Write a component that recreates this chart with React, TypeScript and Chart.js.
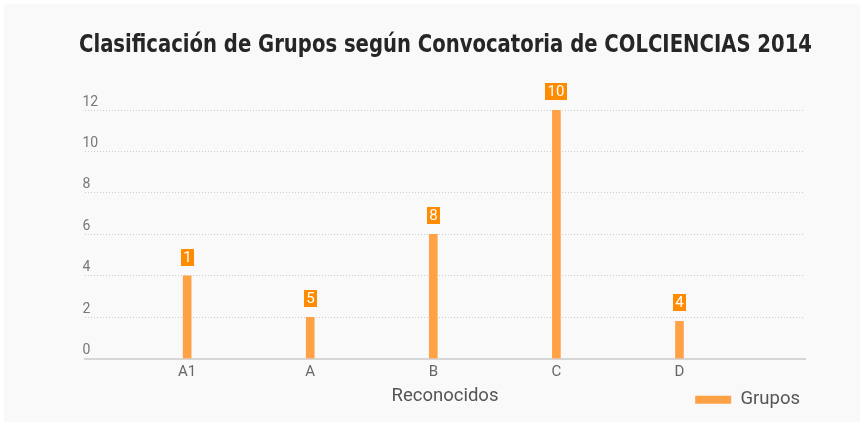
import React, { useEffect, useRef } from 'react';
import { Chart, registerables } from 'chart.js';

Chart.register(...registerables);

const titleText = 'Clasificación de Grupos según Convocatoria de COLCIENCIAS 2014';
const axisTitle = 'Reconocidos';
const seriesName = 'Grupos';
const categories = ['A1', 'A', 'B', 'C', 'D'];
const barValues = [4, 2, 6, 12, 1.8];
const boxLabels = ['1', '5', '8', '10', '4'];
const yTicks = [0, 2, 4, 6, 8, 10, 12];

const valueBoxes = {
  id: 'valueBoxes',
  afterDatasetsDraw(chart: any) {
    const ctx = chart.ctx;
    const meta = chart.getDatasetMeta(0);
    ctx.save();
    ctx.font = '15px Roboto';
    ctx.textAlign = 'center';
    ctx.textBaseline = 'middle';
    meta.data.forEach((bar: any, i: number) => {
      const t = boxLabels[i];
      const w = Math.round(ctx.measureText(t).width + 5);
      const h = 17;
      const bottom = Math.round(bar.y - 10);
      const left = Math.round(bar.x - w / 2);
      ctx.fillStyle = '#ff8c00';
      ctx.fillRect(left, bottom - h, w, h);
      ctx.fillStyle = '#ffffff';
      ctx.fillText(t, left + w / 2, bottom - h / 2 + 1);
    });
    ctx.restore();
  },
};

export default function App() {
  const ref = useRef<HTMLCanvasElement | null>(null);
  useEffect(() => {
    if (!ref.current) return;
    const chart = new Chart(ref.current, {
      type: 'bar',
      data: {
        datasets: [
          {
            label: seriesName,
            data: categories.map((_, i) => ({ x: i, y: barValues[i] })),
            backgroundColor: '#ffa245',
            borderWidth: 0,
            barThickness: 8,
          },
        ],
      },
      options: {
        animation: false,
        responsive: false,
        layout: { padding: { left: 75, right: 48, top: 0, bottom: 3 } },
        plugins: {
          title: {
            display: true,
            text: titleText,
            fullSize: true,
            color: '#262626',
            font: { family: "'Liberation Sans Narrow', 'DejaVu Sans Condensed', Roboto, sans-serif", size: 24.5, weight: 'bold' },
            padding: { top: 27.3, bottom: 49.4 },
          },
          legend: {
            position: 'bottom',
            align: 'end',
            fullSize: false,
            labels: {
              boxWidth: 36,
              boxHeight: 8,
              padding: 5,
              color: '#555555',
              font: { family: 'Roboto', size: 18.5 },
            },
          },
          tooltip: { enabled: false },
        },
        scales: {
          x: {
            type: 'linear',
            offset: false,
            min: -0.83,
            max: 5.02,
            afterBuildTicks: (s: any) => {
              s.ticks = categories.map((_, i) => ({ value: i }));
            },
            ticks: {
              callback: (v: any) => categories[v] ?? '',
              color: '#666666',
              font: { family: 'Roboto', size: 15 },
              padding: 5,
              autoSkip: false,
              maxRotation: 0,
            },
            grid: { display: false, drawTicks: false },
            border: { color: '#d6d6d6', width: 2 },
            title: {
              display: true,
              text: axisTitle,
              color: '#555555',
              font: { family: 'Roboto', size: 18.5 },
              padding: { top: -1.4, bottom: -22 },
            },
          },
          y: {
            min: 0,
            max: 12,
            afterBuildTicks: (s: any) => {
              s.ticks = yTicks.map((v) => ({ value: v }));
            },
            afterFit: (s: any) => {
              s.width = 6;
            },
            ticks: {
              mirror: true,
              padding: -2.5,
              labelOffset: -8,
              color: '#777777',
              font: { family: 'Roboto', size: 14 },
            },
            grid: { color: '#cccccc', drawTicks: false },
            border: { display: false, dash: [1, 2] },
          },
          yRight: {
            position: 'right',
            display: true,
            afterFit: (s: any) => {
              s.width = 7;
            },
            ticks: { display: false },
            grid: { display: false, drawTicks: false },
            border: { display: false },
          },
        },
      },
      plugins: [valueBoxes],
    } as any);
    return () => chart.destroy();
  }, []);

  return (
    <div style={{ position: 'absolute', left: 4, top: 4, width: 856, height: 418, background: '#f9f9f9' }}>
      <canvas ref={ref} width={856} height={418} style={{ display: 'block' }} />
    </div>
  );
}
